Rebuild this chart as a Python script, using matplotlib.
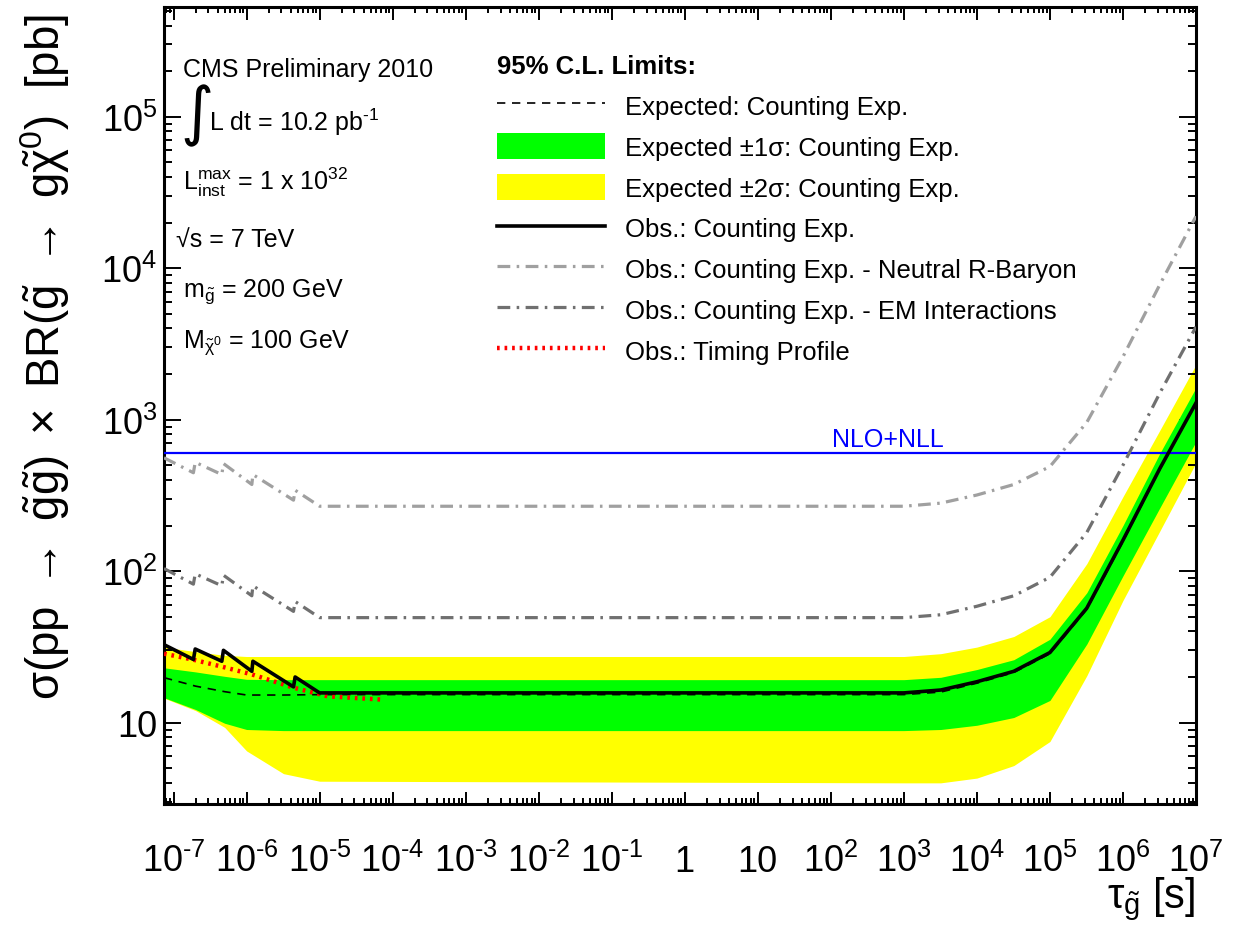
import matplotlib
matplotlib.use('Agg')
import matplotlib.pyplot as plt
from matplotlib.patches import Patch
from matplotlib.lines import Line2D
from matplotlib.ticker import FixedLocator, FixedFormatter, LogLocator, NullFormatter

plt.rcParams['font.family'] = ['Liberation Sans', 'DejaVu Sans']
plt.rcParams['mathtext.fontset'] = 'custom'
plt.rcParams['mathtext.rm'] = 'Liberation Sans'
plt.rcParams['mathtext.it'] = 'Liberation Sans'
plt.rcParams['mathtext.bf'] = 'Liberation Sans:bold'
plt.rcParams['mathtext.sf'] = 'Liberation Sans'

# ---- data ----
# observed limits, counting experiment (sawtooth at short lifetimes)
tau_obs = [7.4e-8, 1.87e-7, 1.98e-7, 4.58e-7, 4.82e-7, 1.18e-6, 1.22e-6, 4.39e-6, 4.62e-6,
           1.0e-5, 1e3, 3.2e3, 1e4, 3.2e4, 1e5, 3.2e5, 1e6, 3.2e6, 1e7]
obs = [32.7, 26.1, 30.6, 25.4, 30.0, 21.8, 25.4, 17.2, 20.0,
       15.7, 15.7, 16.4, 18.6, 21.8, 29.0, 57.0, 160, 476, 1290]
obs_neutral = [560, 446, 523, 434, 513, 373, 434, 294, 342,
               268, 268, 281, 318, 373, 490, 960, 2600, 7800, 22000]
obs_em = [104, 82, 96, 80, 94, 68.7, 80, 54.2, 63,
          49.3, 49.3, 51.5, 58.6, 68.7, 91, 180, 500, 1500, 4100]

# timing profile
tau_timing = [7.4e-8, 1.87e-7, 4.58e-7, 1.18e-6, 4.39e-6, 1.3e-5, 6.8e-5]
timing = [28.5, 26.0, 23.4, 20.8, 17.0, 14.9, 14.2]

# expected limit and bands
tau_exp = [7.4e-8, 2e-7, 5e-7, 1e-6, 3.2e-6, 1e-5, 1e3, 3.2e3, 1e4, 3.2e4,
           1e5, 3.2e5, 1e6, 3.2e6, 1e7]
expected = [19.8, 17.4, 16.0, 15.2, 15.2, 15.3, 15.3, 15.9, 18.2, 21.4,
            28.5, 56, 157, 470, 1280]
exp_p1 = [23.0, 21.6, 20.2, 19.3, 19.2, 19.2, 19.2, 19.9, 22.4, 26.0,
          35.5, 72, 200, 600, 1626]
exp_m1 = [14.6, 12.2, 9.9, 9.0, 8.85, 8.85, 8.85, 9.0, 9.6, 10.8,
          14.0, 33, 93, 262, 716]
exp_p2 = [31.5, 29.4, 27.8, 27.3, 27.3, 27.3, 27.3, 28.5, 31.5, 37,
          50, 112, 310, 851, 2307]
exp_m2 = [14.5, 12.0, 9.3, 6.5, 4.6, 4.1, 4.0, 4.0, 4.3, 5.2,
          7.5, 20.4, 64, 184, 520]

nlo_nll = 606  # pb, theory cross section

x_ticks = [1e-7, 1e-6, 1e-5, 1e-4, 1e-3, 1e-2, 1e-1, 1, 10, 1e2, 1e3, 1e4, 1e5, 1e6, 1e7]
x_labels = [r'$10^{\text{-}7}$', r'$10^{\text{-}6}$', r'$10^{\text{-}5}$', r'$10^{\text{-}4}$',
            r'$10^{\text{-}3}$', r'$10^{\text{-}2}$', r'$10^{\text{-}1}$', '1', '10',
            r'$10^{2}$', r'$10^{3}$', r'$10^{4}$', r'$10^{5}$', r'$10^{6}$', r'$10^{7}$']
y_ticks = [10, 1e2, 1e3, 1e4, 1e5]
y_labels = ['10', r'$10^{2}$', r'$10^{3}$', r'$10^{4}$', r'$10^{5}$']

# ---- figure ----
W, H = 1241, 929
fig = plt.figure(figsize=(W / 100, H / 100), dpi=100)
ax = fig.add_axes([164 / W, 1 - 805 / H, (1196 - 164) / W, (805 - 8) / H])
ax.set_xscale('log')
ax.set_yscale('log')

ax.fill_between(tau_exp, exp_m2, exp_p2, color='#ffff00', lw=0, zorder=1)
ax.fill_between(tau_exp, exp_m1, exp_p1, color='#00ff00', lw=0, zorder=2)
ax.plot(tau_exp, expected, color='k', lw=1.2, ls=(0, (5, 4)), zorder=3)
ax.axhline(nlo_nll, color='#0000ff', lw=1.6, zorder=4)
ax.plot(tau_obs, obs_neutral, color='#a0a0a0', lw=2.3, ls=(0, (4, 2, 0.8, 2)), zorder=5)
ax.plot(tau_obs, obs_em, color='#707070', lw=2.3, ls=(0, (4, 2, 0.8, 2)), zorder=5)
ax.plot(tau_timing, timing, color='red', lw=3.2, ls=(0, (0.6, 1.1)), zorder=6)
ax.plot(tau_obs, obs, color='k', lw=2.6, zorder=7)

ax.text(888 / W, 1 - 440 / H, 'NLO+NLL', color='#0000ff', fontsize=18,
        ha='center', va='center', transform=fig.transFigure)

ax.set_xlim(7.4e-8, 1e7)
ax.set_ylim(2.9, 5.3e5)

ax.xaxis.set_major_locator(FixedLocator(x_ticks))
ax.xaxis.set_major_formatter(FixedFormatter(x_labels))
ax.xaxis.set_minor_locator(LogLocator(base=10, subs=range(2, 10), numticks=50))
ax.xaxis.set_minor_formatter(NullFormatter())
ax.yaxis.set_major_locator(FixedLocator(y_ticks))
ax.yaxis.set_major_formatter(FixedFormatter(y_labels))
ax.yaxis.set_minor_locator(LogLocator(base=10, subs=range(2, 10), numticks=50))
ax.yaxis.set_minor_formatter(NullFormatter())

ax.tick_params(which='both', direction='in', top=True, right=True, width=1.4, labelsize=26)
ax.tick_params(axis='x', which='major', length=9, pad=48)
ax.tick_params(axis='x', which='minor', length=4)
ax.tick_params(axis='y', which='major', length=12, pad=5)
ax.tick_params(axis='y', which='minor', length=6)
for lbl in ax.get_xticklabels():
    lbl.set_verticalalignment('baseline')
for sp in ax.spines.values():
    sp.set_linewidth(2.2)

# legend
handles = [
    Line2D([], [], color='k', lw=1.2, ls=(0, (5, 4))),
    Patch(facecolor='#00ff00', edgecolor='none'),
    Patch(facecolor='#ffff00', edgecolor='none'),
    Line2D([], [], color='k', lw=2.6),
    Line2D([], [], color='#a0a0a0', lw=2.3, ls=(0, (4, 2, 0.8, 2))),
    Line2D([], [], color='#707070', lw=2.3, ls=(0, (4, 2, 0.8, 2))),
    Line2D([], [], color='red', lw=3.2, ls=(0, (0.6, 1.1))),
]
labels = [
    'Expected: Counting Exp.',
    'Expected \u00b11\u03c3: Counting Exp.',
    'Expected \u00b12\u03c3: Counting Exp.',
    'Obs.: Counting Exp.',
    'Obs.: Counting Exp. - Neutral R-Baryon',
    'Obs.: Counting Exp. - EM Interactions',
    'Obs.: Timing Profile',
]
ax.legend(handles, labels, loc='upper left', bbox_to_anchor=(497 / W, 1 - 55 / H),
          bbox_transform=fig.transFigure, frameon=False, fontsize=18.5,
          title='95% C.L. Limits:', title_fontproperties={'weight': 'bold', 'size': 18.5},
          alignment='left', handlelength=4.2, handleheight=1.15, handletextpad=0.8,
          labelspacing=0.56, borderpad=0, borderaxespad=0)

# info text
fs = 18
fig.text(183 / W, 1 - 70 / H, 'CMS Preliminary 2010', fontsize=fs, va='center')
fig.text(180 / W, 1 - 116 / H, '\u222b', fontsize=46, va='center', family='DejaVu Sans')
fig.text(209 / W, 1 - 122 / H, r'L dt = 10.2 pb$^{\text{-}1}$', fontsize=fs, va='center')
fig.text(183 / W, 1 - 182 / H, r'L$^{\mathrm{max}}_{\mathrm{inst}}$ = 1 x 10$^{32}$', fontsize=fs, va='center')
fig.text(176 / W, 1 - 240 / H, '\u221as = 7 TeV', fontsize=fs, va='center')
fig.text(183 / W, 1 - 292 / H, r'm$_{\tilde{g}}$ = 200 GeV', fontsize=fs, va='center')
fig.text(183 / W, 1 - 343 / H, r'M$_{\tilde{\chi}^{0}}$ = 100 GeV', fontsize=fs, va='center')

# axis titles
fig.text(45 / W, 1 - 14 / H,
         r'$\sigma(\mathrm{pp}\ \rightarrow\ \tilde{g}\tilde{g})\ \times\ \mathrm{BR}(\tilde{g}\ \rightarrow\ g\tilde{\chi}^{0})\ \ [\mathrm{pb}]$',
         rotation=90, ha='center', va='top', fontsize=32.8)
fig.text(1195 / W, 1 - 899 / H, r'$\tau_{\tilde{g}}$ [s]', ha='right', va='center', fontsize=30)

fig.savefig('out.png', dpi=100)
